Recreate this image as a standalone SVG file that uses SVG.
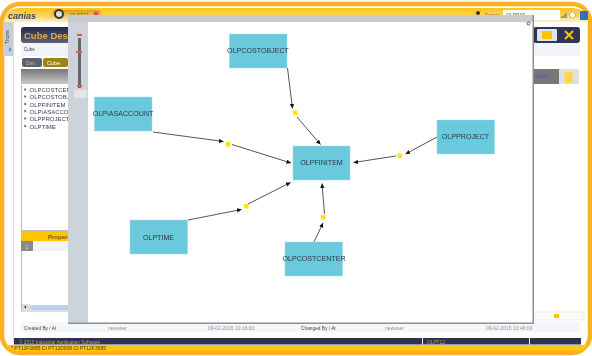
<svg xmlns="http://www.w3.org/2000/svg" width="592" height="356" viewBox="0 0 592 356">
<style>
text{font-family:"Liberation Sans",Arial,sans-serif}
.n rect{fill:#6bc9dd;stroke:#9adbe8;stroke-width:.5}
.n text{font-size:7.100px;fill:#2b3a42;text-anchor:middle}
.c line{stroke:#555;stroke-width:1;marker-end:url(#a)}
.d{fill:#ffe600}
.t{font-size:6px;fill:#3a3f55}
.s{font-size:5px;fill:#8a8f98}
</style>
<defs>
<marker id="a" markerWidth="6" markerHeight="6" refX="4.500" refY="2.200" orient="auto" markerUnits="userSpaceOnUse"><path d="M0 0L4.500 2.200L0 4.400Z" fill="#111"/></marker>
<linearGradient id="hd" gradientUnits="userSpaceOnUse" x1="0" y1="8" x2="0" y2="22"><stop offset="0" stop-color="#ffc21a"/><stop offset=".55" stop-color="#ffd65a"/><stop offset="1" stop-color="#fff3c8"/></linearGradient>
<linearGradient id="gb" x1="0" y1="0" x2="0" y2="1"><stop offset="0" stop-color="#777"/><stop offset="1" stop-color="#c9c9c9"/></linearGradient>
<linearGradient id="nv" x1="0" y1="0" x2="0" y2="1"><stop offset="0" stop-color="#23294a"/><stop offset="1" stop-color="#5a6078"/></linearGradient>
<linearGradient id="tb" x1="0" y1="0" x2="0" y2="1"><stop offset="0" stop-color="#d9a010"/><stop offset="1" stop-color="#fff2c0"/></linearGradient>
<filter id="b" x="-5%" y="-5%" width="110%" height="110%"><feGaussianBlur stdDeviation="0.35"/></filter>
<filter id="b2" x="-5%" y="-20%" width="110%" height="140%"><feGaussianBlur stdDeviation="0.25"/></filter>
</defs>
<rect width="592" height="356" fill="#fff"/>
<g id="chrome" filter="url(#b)">
<rect x="2" y="4" width="588" height="349" rx="18" fill="#fff" stroke="#fdb022" stroke-width="4.500"/>
<path d="M4.500 22Q5 8 21 8H571Q587 8 587.500 22Z" fill="url(#hd)"/>
<path d="M12 345H588Q586 351 576 351H18Q12 351 5 345Z" fill="#ffc60a"/>
<path d="M44 22L54 10H100L106 22Z" fill="url(#tb)"/>
<text x="8" y="19" font-size="9" font-weight="bold" font-style="italic" fill="#30466b">canias</text>
<circle cx="59" cy="14" r="5" fill="#333"/><circle cx="59" cy="14" r="3" fill="#ddd"/>
<text x="70" y="17" font-size="5" fill="#7a5c10">OLPT12</text>
<circle cx="96" cy="14" r="2.500" fill="#e05050"/>
<rect x="3" y="22" width="10" height="34" fill="#c9ced4"/>
<text transform="translate(9,44) rotate(-90)" font-size="5.500" fill="#444">Trans</text>
<path d="M9 47l3 2.500-3 2.500Z" fill="#3a9de0"/>
<rect x="13" y="22" width="1" height="323" fill="#ddd"/>
<rect x="21" y="27" width="50" height="16" rx="3" fill="url(#nv)"/>
<text x="24" y="39" font-size="9.500" font-weight="bold" fill="#d9b23c">Cube Design</text>
<rect x="21" y="43" width="559" height="13" fill="#f1f3f8"/>
<text x="24" y="51" font-size="4.500" fill="#444">Cube</text>
<rect x="22" y="58" width="20" height="9" rx="2" fill="#5a5f7a"/>
<text x="26" y="64.500" font-size="5" fill="#e0c050">Dim</text>
<rect x="43" y="58" width="25" height="9" rx="2" fill="#a08318"/>
<text x="47" y="64.500" font-size="5.500" fill="#fff">Cube</text>
<rect x="21" y="69" width="50" height="15" fill="url(#gb)"/>
<rect x="22" y="85" width="47" height="249" fill="#fff"/>
<path d="M21.500 85V311H69" fill="none" stroke="#bbb"/>
<g class="t">
<text x="29.500" y="92">OLPCOSTCENT</text>
<text x="29.500" y="99">OLPCOSTOBJE</text>
<text x="29.500" y="106.500">OLPFINITEM</text>
<text x="29.500" y="113.500">OLP\ASACCOU</text>
<text x="29.500" y="121">OLPPROJECT</text>
<text x="29.500" y="128.500">OLPTIME</text>
</g>
<path d="M24.500 88l2 1.500-2 1.500ZM24.500 95l2 1.500-2 1.500ZM24.500 102.500l2 1.500-2 1.500ZM24.500 109.500l2 1.500-2 1.500ZM24.500 117l2 1.500-2 1.500ZM24.500 124.500l2 1.500-2 1.500Z" fill="#444"/>
<rect x="21" y="230" width="50" height="1" fill="#bbb"/>
<rect x="21" y="231" width="50" height="10" fill="#ffc400"/>
<text x="48" y="238.500" font-size="6" font-weight="bold" fill="#6a5a10">Propert</text>
<rect x="21" y="241" width="12" height="10" fill="#8a8a8a"/>
<rect x="33" y="241" width="38" height="10" fill="#f2f3f6"/>
<text x="25.500" y="248.500" font-size="5" fill="#ddd">1</text>
<rect x="22" y="304" width="8" height="6" fill="#ddd"/>
<path d="M24 307l2-1.500v3Z" fill="#333"/>
<rect x="30" y="305" width="40" height="5" rx="2" fill="#bcd0e8"/>
<rect x="21" y="322" width="559" height="10" fill="#f5f6fa"/>
<text x="24" y="329.500" font-size="4.800" fill="#444">Created By / At</text>
<text x="108" y="329.500" class="s">newuser</text>
<text x="208" y="329.500" class="s">09-02-2016 10:16:00</text>
<text x="301" y="329.500" font-size="4.800" fill="#444">Changed By / At</text>
<text x="385" y="329.500" class="s">newuser</text>
<text x="486" y="329.500" class="s">09-02-2016 10:46:00</text>
<rect x="14" y="338" width="567" height="6.500" fill="#2d3252"/>
<text x="19" y="343.500" font-size="4.800" fill="#c7a53a">© 2010 Industrial Application Software</text>
<rect x="422" y="338" width="1" height="6.500" fill="#fff"/><rect x="529" y="338" width="1" height="6.500" fill="#fff"/>
<text x="427" y="343.500" font-size="4.800" fill="#c7a53a">OLPT12</text>
<text x="11" y="350" font-size="5" fill="#4a3a00">* PT12F3885 Ct PT12D008 Ct PT12F3585</text>
<rect x="533" y="27" width="47" height="16" rx="3" fill="#2f3655"/>
<rect x="537" y="29" width="20" height="12" rx="1" fill="#dfe3ea"/>
<rect x="542" y="31" width="10" height="8" fill="#ffc400"/>
<path d="M565 31l8 8M573 31l-8 8" stroke="#ffc400" stroke-width="2"/>
<rect x="533" y="69" width="30" height="15" fill="#777"/>
<rect x="559" y="69" width="20" height="15" fill="#dde0e4"/>
<path d="M564 72h9l-1 11h-7Z" fill="#ffd84a"/>
<text x="535" y="78" font-size="4.500" fill="#4050c0">Delete</text>
<rect x="534" y="312" width="50" height="8" fill="#fbfbf4" stroke="#ddd" stroke-width=".5"/>
<rect x="554" y="314" width="5" height="4" fill="#ffc400"/>
<circle cx="478" cy="13" r="2" fill="#333"/>
<text x="485" y="17" font-size="5" fill="#666">Server</text>
<rect x="503" y="10" width="57" height="10" fill="#fff"/>
<text x="506" y="17" font-size="5" fill="#555">OLPPAS</text>
<path d="M560 18l7-6v6Z" fill="#8aa0b0"/>
<path d="M569 15l3.500-4 3.500 4-3.500 4Z" fill="#fff" stroke="#c8b050"/>
<rect x="580" y="11" width="8" height="9" rx="1" fill="#3070c0"/>
</g>
<g id="modal" filter="url(#b)">
<rect x="68" y="15" width="466" height="309" fill="#fff"/>
<rect x="68" y="15" width="466" height="7" fill="#cbcbcb"/>
<rect x="68" y="22" width="20" height="301" fill="#cdd3da"/>
<rect x="532.500" y="15" width="1.500" height="309" fill="#8e8e8e"/>
<rect x="68" y="322.500" width="466" height="1.500" fill="#8e8e8e"/>
<rect x="78" y="38" width="3" height="50" fill="#666"/>
<rect x="77" y="34" width="5" height="2" fill="#e05a4a"/><rect x="76" y="51" width="6" height="2" fill="#e05a4a"/><rect x="77" y="85" width="5" height="2" fill="#e05a4a"/>
<rect x="74" y="90" width="13" height="8" fill="#e3e5e8"/>
<circle cx="528.500" cy="23.500" r="1.500" fill="none" stroke="#333" stroke-width=".8"/>
</g>
<g id="connectors" class="c" filter="url(#b2)">
<line x1="287.500" y1="68" x2="292.500" y2="108.500"/>
<line x1="297" y1="117" x2="320.500" y2="144.500"/>
<line x1="153" y1="132" x2="223.500" y2="141.500"/>
<line x1="232" y1="144.500" x2="291" y2="163"/>
<line x1="437" y1="137" x2="405.500" y2="154"/>
<line x1="396" y1="156" x2="353.500" y2="162.500"/>
<line x1="188" y1="220" x2="241.500" y2="209.500"/>
<line x1="248" y1="204" x2="290.500" y2="182.500"/>
<line x1="314" y1="242" x2="323" y2="223"/>
<line x1="324.500" y1="214" x2="322" y2="183.500"/>
<rect class="d" x="293" y="110.500" width="4.500" height="4.500"/>
<rect class="d" x="226" y="142" width="4.500" height="4.500"/>
<rect class="d" x="397.500" y="153.500" width="4.500" height="4.500"/>
<rect class="d" x="244" y="204" width="4.500" height="4.500"/>
<rect class="d" x="321" y="215" width="4.500" height="4.500"/>
</g>
<g id="OLPCOSTOBJECT" class="n" filter="url(#b2)"><rect x="229.500" y="34" width="57.500" height="34"/><text x="258" y="53">OLPCOSTOBJECT</text></g>
<g id="OLPASACCOUNT" class="n" filter="url(#b2)"><rect x="94.500" y="97" width="57.500" height="34"/><text x="123" y="116">OLP\ASACCOUNT</text></g>
<g id="OLPFINITEM" class="n" filter="url(#b2)"><rect x="293" y="146" width="57" height="34"/><text x="321.500" y="165">OLPFINITEM</text></g>
<g id="OLPPROJECT" class="n" filter="url(#b2)"><rect x="437" y="120" width="57.500" height="34"/><text x="465.500" y="139">OLPPROJECT</text></g>
<g id="OLPTIME" class="n" filter="url(#b2)"><rect x="130" y="220" width="57.500" height="34"/><text x="158.500" y="239.500">OLPTIME</text></g>
<g id="OLPCOSTCENTER" class="n" filter="url(#b2)"><rect x="285" y="242" width="57.500" height="34"/><text x="314" y="261">OLPCOSTCENTER</text></g>
</svg>
